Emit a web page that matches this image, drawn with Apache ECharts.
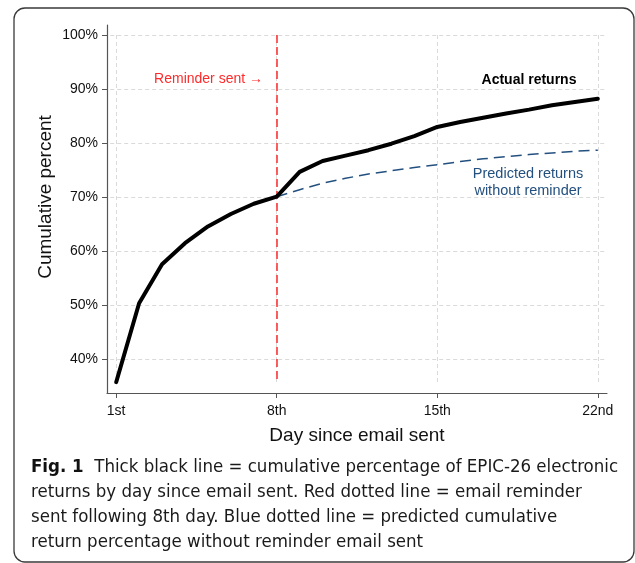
<!DOCTYPE html>
<html>
<head>
<meta charset="utf-8">
<script src="https://cdn.jsdelivr.net/npm/echarts@6/dist/echarts.min.js"></script>
<style>
  html, body { margin: 0; padding: 0; background: #fff; }
  #chart { width: 635px; height: 563px; }
</style>
</head>
<body>
<div id="chart"></div>
<script>
let days = [1, 2, 3, 4, 5, 6, 7, 8, 9, 10, 11, 12, 13, 14, 15, 16, 17, 18, 19, 20, 21, 22]
let actualReturns = [35.8, 50.4, 57.6, 61.5, 64.6, 66.9, 68.8, 70.1, 74.7, 76.7, 77.7, 78.7, 79.9, 81.3, 83.0, 83.9, 84.7, 85.5, 86.2, 87.0, 87.6, 88.2]
let predictedDays = [8, 9, 10, 11, 12, 13, 14, 15, 16, 17, 18, 19, 20, 21, 22]
let predictedReturns = [70.1, 71.4, 72.6, 73.5, 74.3, 74.9, 75.5, 76.0, 76.6, 77.1, 77.5, 77.9, 78.2, 78.5, 78.7]
let xTicks = [1, 8, 15, 22]
let xTickLabels = ['1st', '8th', '15th', '22nd']
let yTicks = [40, 50, 60, 70, 80, 90, 100]
let reminderDay = 8

let captionLines = [
  '{b|Fig. 1}  Thick black line = cumulative percentage of EPIC-26 electronic',
  'returns by day since email sent. Red dotted line = email reminder',
  'sent following 8th day. Blue dotted line = predicted cumulative',
  'return percentage without reminder email sent'
]

let font = '"Liberation Sans", Arial, sans-serif'
let captionFont = '"DejaVu Sans Condensed", sans-serif'

// stata style grid, a bit shorter than the plot area
let gridLines = []
yTicks.forEach(v => {
  gridLines.push([{coord: [0.74, v]}, {coord: [22.3, v]}])
})
xTicks.forEach(v => {
  gridLines.push([{coord: [v, 100]}, {coord: [v, 35.7]}])
})

let graphics = [
  {
    type: 'rect',
    shape: {x: 14, y: 8, width: 620, height: 554, r: 11},
    style: {fill: 'none', stroke: '#3a3a3a', lineWidth: 1.3},
    silent: true
  },
  {
    type: 'text', x: 263, y: 79,
    style: {text: 'Reminder sent \u2192', fill: '#ff2a2a', font: '14px ' + font, align: 'right', verticalAlign: 'middle'}
  },
  {
    type: 'text', x: 529, y: 80,
    style: {text: 'Actual returns', fill: '#000', font: 'bold 14px ' + font, align: 'center', verticalAlign: 'middle'}
  },
  {
    type: 'text', x: 528, y: 182,
    style: {text: 'Predicted returns\nwithout reminder', fill: '#23507f', font: '14.5px ' + font, align: 'center', verticalAlign: 'middle', lineHeight: 17}
  }
]
captionLines.forEach((line, i) => {
  graphics.push({
    type: 'text', x: 31, y: 467 + i * 25,
    style: {
      text: line,
      fill: '#1a1a1a',
      fontFamily: captionFont,
      fontSize: 18.5,
      verticalAlign: 'middle',
      rich: {
        b: {fontFamily: captionFont, fontSize: 18.5, fontWeight: 'bold', fill: '#111'}
      }
    }
  })
})

let option = {
  animation: false,
  grid: {
    left: 107,
    right: 28,
    top: 25,
    bottom: 170
  },
  xAxis: {
    type: 'value',
    min: 0.6,
    max: 22.4,
    name: 'Day since email sent',
    nameLocation: 'middle',
    nameGap: 33,
    nameTextStyle: {fontFamily: font, fontSize: 19, color: '#111'},
    axisLine: {lineStyle: {color: '#555', width: 1.2}},
    axisTick: {show: true, length: 5, customValues: xTicks, lineStyle: {color: '#555'}},
    axisLabel: {
      customValues: xTicks,
      margin: 11,
      fontFamily: font,
      fontSize: 14,
      color: '#111',
      formatter(v) {
        let i = xTicks.indexOf(v)
        return i >= 0 ? xTickLabels[i] : ''
      }
    },
    splitLine: {show: false}
  },
  yAxis: {
    type: 'value',
    min: 33.8,
    max: 101.85,
    name: 'Cumulative percent',
    nameLocation: 'middle',
    nameGap: 52,
    nameMoveOverlap: false,
    nameTextStyle: {fontFamily: font, fontSize: 19, color: '#111', padding: [0, 0, 0, 24]},
    axisLine: {show: true, lineStyle: {color: '#555', width: 1.2}},
    axisTick: {show: true, length: 5, customValues: yTicks, lineStyle: {color: '#555'}},
    axisLabel: {
      customValues: yTicks,
      margin: 9,
      fontFamily: font,
      fontSize: 14,
      color: '#111',
      formatter: '{value}%'
    },
    splitLine: {show: false}
  },
  graphic: graphics,
  series: [
    {
      // grid + reminder line, kept under the data lines
      type: 'line',
      data: [],
      z: 1,
      silent: true,
      markLine: {
        z: 1,
        silent: true,
        symbol: 'none',
        label: {show: false},
        animation: false,
        data: gridLines.concat([
          [
            {coord: [reminderDay, 100], lineStyle: {color: '#ff2a2a', type: [8, 4], width: 1.5}},
            {coord: [reminderDay, 35.7]}
          ]
        ]),
        lineStyle: {color: '#dadada', type: [4, 3], width: 1}
      }
    },
    {
      name: 'Predicted returns without reminder',
      type: 'line',
      z: 9,
      data: predictedDays.map((d, i) => [d, predictedReturns[i]]),
      symbol: 'none',
      lineStyle: {color: '#23507f', width: 1.5, type: [11, 6]}
    },
    {
      name: 'Actual returns',
      type: 'line',
      z: 10,
      data: days.map((d, i) => [d, actualReturns[i]]),
      symbol: 'none',
      lineStyle: {color: '#000', width: 4, join: 'round', cap: 'round'}
    }
  ]
}

let chart = echarts.init(document.getElementById('chart'))
chart.setOption(option)
</script>
</body>
</html>
